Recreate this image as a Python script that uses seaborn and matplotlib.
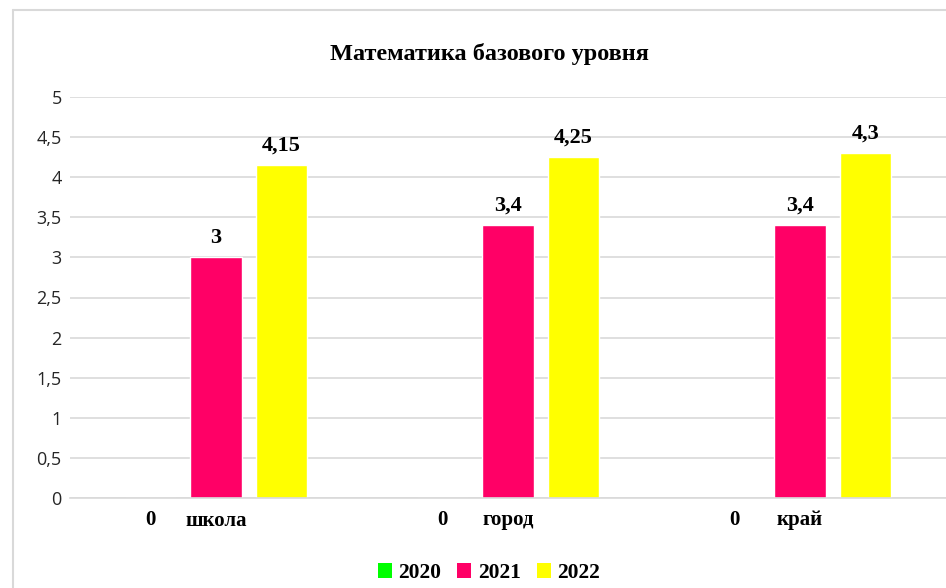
import numpy as np
import pandas as pd
import matplotlib.pyplot as plt
from matplotlib.patches import Patch
from matplotlib.lines import Line2D
import seaborn as sns

categories = ['школа', 'город', 'край']
years = ['2020', '2021', '2022']
vals_2020 = [0, 0, 0]
vals_2021 = [3, 3.4, 3.4]
vals_2022 = [4.15, 4.25, 4.3]
colors = ['#00FF00', '#FF0066', '#FFFF00']
yticks = [0, 0.5, 1, 1.5, 2, 2.5, 3, 3.5, 4, 4.5, 5]

SERIF = ['Liberation Serif', 'DejaVu Serif']

df = pd.DataFrame({
    'cat': categories * 3,
    'year': [y for y in years for _ in categories],
    'val': vals_2020 + vals_2021 + vals_2022,
})

sns.set_theme(style='white')
plt.rcParams['font.family'] = ['Open Sans', 'DejaVu Sans']
plt.rcParams['text.color'] = 'black'

fig = plt.figure(figsize=(9.46, 5.88), dpi=100)
ax = fig.add_axes([70 / 946, 90 / 588, 876 / 946, 401 / 588])

sns.barplot(data=df, x='cat', y='val', hue='year', palette=colors,
            width=0.672, gap=0.22, ax=ax, legend=False, saturation=1)

ax.set_xlim(-0.5, 2.5)
ax.set_ylim(0, 5)
ax.set_yticks(yticks)
ax.set_yticklabels([f'{t:g}'.replace('.', ',') for t in yticks], fontsize=13, color='#262626')
ax.set_xticks(range(len(categories)))
ax.set_xticklabels(categories, family=SERIF, fontweight='bold', fontsize=15, color='black')
ax.tick_params(axis='y', length=0, pad=6)
ax.tick_params(axis='x', length=0, pad=9)
ax.set_xlabel('')
ax.set_ylabel('')
ax.yaxis.grid(True, color='#d9d9d9', lw=1.2)
ax.set_axisbelow(True)
for s in ['top', 'right', 'left']:
    ax.spines[s].set_visible(False)
ax.spines['bottom'].set_color('#d9d9d9')
ax.spines['bottom'].set_linewidth(1.2)

# data labels
for cont in ax.containers:
    for p in cont:
        h = p.get_height()
        x = p.get_x() + p.get_width() / 2
        txt = f'{h:g}'.replace('.', ',')
        if h == 0:
            ax.annotate(txt, (x, 0), xytext=(0, -15.5), textcoords='offset points', color='black',
                        ha='center', va='center', family=SERIF, fontweight='bold', fontsize=15)
        else:
            ax.annotate(txt, (x, h), xytext=(0, 7), textcoords='offset points', color='black',
                        ha='center', va='bottom', family=SERIF, fontweight='bold', fontsize=16)

fig.text(489 / 946, 1 - 54 / 588, 'Математика базового уровня', ha='center', va='center',
         family=SERIF, fontweight='bold', fontsize=17.5, color='black')

handles = [Patch(facecolor=c, edgecolor='none') for c in colors]
leg = fig.legend(handles, years, loc='center', bbox_to_anchor=(489 / 946, 1 - 573 / 588), ncol=3,
                 frameon=False, handlelength=0.65, handleheight=0.65, handletextpad=0.3,
                 columnspacing=0.75, prop={'family': SERIF, 'weight': 'bold', 'size': 15.5})
for t in leg.get_texts():
    t.set_color('black')

# chart border
fig.add_artist(Line2D([13 / 946, 13 / 946], [0, 1 - 10 / 588], color='#d9d9d9', lw=1.5))
fig.add_artist(Line2D([13 / 946, 1], [1 - 10 / 588, 1 - 10 / 588], color='#d9d9d9', lw=1.5))

fig.savefig('out.png', dpi=100)
